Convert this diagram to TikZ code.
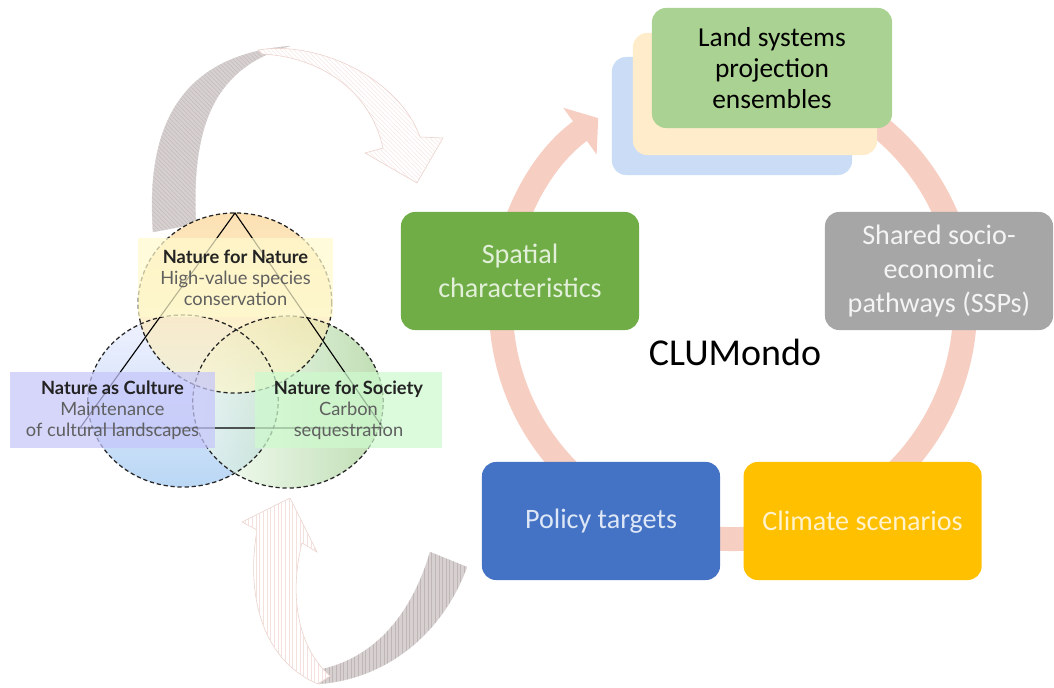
\documentclass[tikz,border=0pt]{standalone}
\usepackage{fontspec}
\setmainfont{Carlito}
\newfontfamily\venfont{Lato}
\usetikzlibrary{arrows.meta,positioning,patterns.meta}
\definecolor{ringpink}{RGB}{246,206,194}
\definecolor{spatialgreen}{RGB}{112,173,71}
\definecolor{spatialtext}{RGB}{226,240,217}
\definecolor{sspgray}{RGB}{166,166,166}
\definecolor{ssptext}{RGB}{244,244,244}
\definecolor{policyblue}{RGB}{68,114,196}
\definecolor{policytext}{RGB}{222,231,246}
\definecolor{climategold}{RGB}{255,192,0}
\definecolor{climatetext}{RGB}{255,242,204}
\definecolor{landgreen}{RGB}{170,210,146}
\definecolor{landcream}{RGB}{255,236,202}
\definecolor{landblue}{RGB}{202,220,246}
\definecolor{ribbondark}{RGB}{214,208,208}
\definecolor{ribbonline}{RGB}{192,182,182}
\definecolor{ribbonpink}{RGB}{234,208,202}
\definecolor{ribbonhatch}{RGB}{244,224,220}
\definecolor{titlegray}{RGB}{35,35,35}
\definecolor{bodygray}{RGB}{95,95,95}
\definecolor{labelyellow}{RGB}{255,250,205}
\definecolor{labelviolet}{RGB}{198,198,250}
\definecolor{labelgreen}{RGB}{206,250,206}

\begin{document}
\begin{tikzpicture}[x=0.025cm, y=-0.025cm,
  cycbox/.style={rounded corners=0.35cm, minimum width=5.95cm, minimum height=2.95cm,
                 align=center, font=\fontsize{20}{24}\selectfont},
  landbox/.style={rounded corners=0.35cm, minimum width=6cm, minimum height=2.95cm,
                  align=center, font=\fontsize{19.5}{22}\selectfont},
  vlabel/.style={fill opacity=0.72, text opacity=1, minimum height=1.9cm, align=center,
                 text=bodygray, font=\venfont\fontsize{13}{15}\selectfont},
  ring/.style={draw=ringpink, line width=17pt, -{Triangle[length=16pt, width=40pt]}},
  vennedge/.style={draw=black!85, dashed, dash pattern=on 3pt off 2pt, line width=0.9pt},
  ribbonback/.style={fill=ribbondark, draw=ribbondark, very thin,
     postaction={pattern={Lines[angle=-45, distance=2.2pt, line width=0.25pt]}, pattern color=ribbonline}},
  ribbonfront/.style={fill=white, draw=ribbonpink, thin,
     postaction={pattern={Lines[angle=-45, distance=2.2pt, line width=0.25pt]}, pattern color=ribbonhatch}},
  ribbonbackv/.style={fill=ribbondark, draw=ribbondark, very thin,
     postaction={pattern={Lines[angle=90, distance=2.6pt, line width=0.3pt]}, pattern color=ribbonline}},
  ribbonfrontv/.style={fill=white, draw=ribbonpink, thin,
     postaction={pattern={Lines[angle=90, distance=2.6pt, line width=0.3pt]}, pattern color=ribbonhatch}}]

\useasboundingbox (0,0) rectangle (1054,688);

% twisted arrows round the triangle
\draw[ribbonback] (153,232) .. controls (145,120) and (185,55) .. (290,46)
  .. controls (225,65) and (190,110) .. (196,224) -- cycle;
\draw[ribbonfront] (258,50) .. controls (320,40) and (400,80) .. (420,137) -- (443,138)
  -- (417,183) -- (365,153) -- (383,148) .. controls (370,90) and (320,57) .. (262,54) -- cycle;
\draw[ribbonbackv] (318,684) .. controls (380,680) and (440,640) .. (467,567) -- (430,552)
  .. controls (410,620) and (370,660) .. (318,670) -- cycle;
\draw[ribbonfrontv] (318,684) .. controls (265,662) and (245,600) .. (257,530) -- (242,522)
  -- (290,498) -- (317,552) -- (302,543) .. controls (290,590) and (295,645) .. (330,676) -- cycle;

% CLUMondo cycle
\coordinate (ringc) at (733,307);
\draw[ring] (ringc) ++(60:5.8cm) arc[start angle=60, end angle=-234.5, radius=5.8cm];

% three circles
\coordinate (ctop) at (235,303);
\coordinate (cleft) at (183,401);
\coordinate (cright) at (288,402);
\fill[white] (ctop) ellipse[x radius=2.42cm, y radius=2.25cm];
\fill[white] (cleft) ellipse[x radius=2.38cm, y radius=2.15cm];
\fill[white] (cright) ellipse[x radius=2.38cm, y radius=2.15cm];
\shade[top color=blue!8, bottom color={rgb,255:red,150;green,195;blue,240}, fill opacity=0.65]
  (cleft) ellipse[x radius=2.38cm, y radius=2.15cm];
\shade[left color=green!4, right color={rgb,255:red,150;green,200;blue,130}, fill opacity=0.6]
  (cright) ellipse[x radius=2.38cm, y radius=2.15cm];
\shade[top color={rgb,255:red,250;green,205;blue,130}, bottom color={rgb,255:red,255;green,248;blue,200}, fill opacity=0.6]
  (ctop) ellipse[x radius=2.42cm, y radius=2.25cm];
\draw[vennedge] (cleft) ellipse[x radius=2.38cm, y radius=2.15cm];
\draw[vennedge] (cright) ellipse[x radius=2.38cm, y radius=2.15cm];
\draw[vennedge] (ctop) ellipse[x radius=2.42cm, y radius=2.25cm];

\coordinate (apex) at (235,213);
\coordinate (baseL) at (80,428);
\coordinate (baseR) at (383,428);
\draw[black, line width=0.8pt] (apex) -- (baseL) -- (baseR) -- cycle;

\node[vlabel, fill=labelyellow, minimum width=4.875cm, minimum height=1.975cm] (nfn) at (235.5,277.5)
  {\textcolor{titlegray}{\bfseries Nature for Nature}\\High-value species\\conservation};
\node[vlabel, fill=labelviolet, minimum width=5.125cm] (nac) at (112.5,410)
  {\textcolor{titlegray}{\bfseries Nature as Culture}\\Maintenance\\of cultural landscapes};
\node[vlabel, fill=labelgreen, minimum width=4.675cm] (nfs) at (348.5,410)
  {\textcolor{titlegray}{\bfseries Nature for Society}\\Carbon\\sequestration};

% model inputs and outputs
\node[landbox, fill=landblue] (landB) at (732,116) {};
\node[landbox, fill=landcream, minimum width=6.1cm, minimum height=3.05cm] (landC) at (755,94) {};
\node[landbox, fill=landgreen, minimum height=3cm] (land) at (772,68) {Land systems\\projection\\ensembles};
\node[cycbox, fill=spatialgreen, text=spatialtext] (spatial) at (520,271) {Spatial\\characteristics};
\node[cycbox, fill=sspgray, text=ssptext, minimum width=5.7cm] (ssp) at (939,271) {Shared socio-\\economic\\pathways (SSPs)};
\node[cycbox, fill=policyblue, text=policytext] (policy) at (601,521) {Policy targets};
\node[cycbox, fill=climategold, text=climatetext, right=0.575cm of policy] (climate) {Climate scenarios};
\node[font=\fontsize{27}{32}\selectfont] (clumondo) at (735,352) {CLUMondo};
\end{tikzpicture}
\end{document}
